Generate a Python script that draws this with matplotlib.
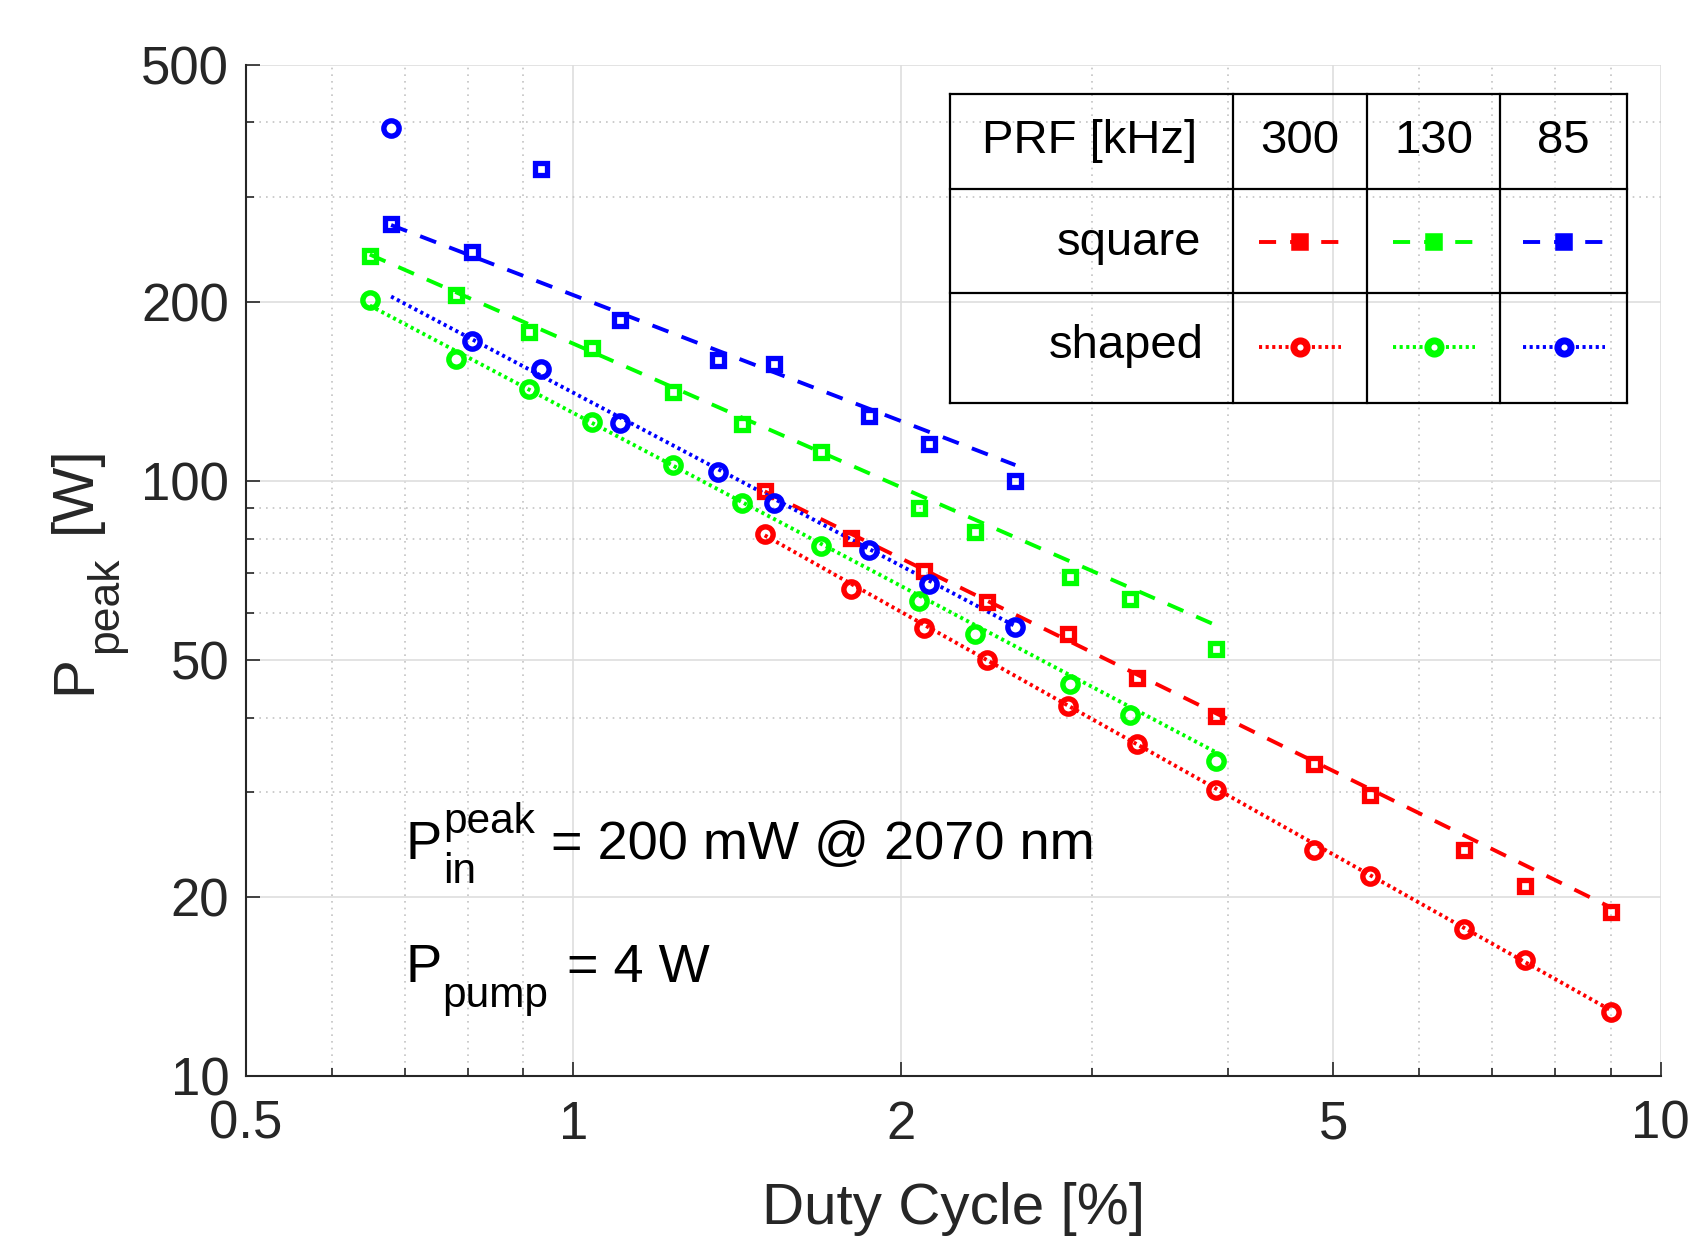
import numpy as np
import matplotlib
matplotlib.use("Agg")
import matplotlib.pyplot as plt
from matplotlib.ticker import FixedLocator, NullFormatter, FixedFormatter

plt.rcParams['font.family'] = ['Liberation Sans', 'DejaVu Sans']

# duty cycle [%] for each PRF
duty_300 = [1.5, 1.8, 2.1, 2.4, 2.85, 3.3, 3.9, 4.8, 5.4, 6.6, 7.5, 9.0]
duty_130 = [0.65, 0.78, 0.91, 1.04, 1.235, 1.43, 1.69, 2.08, 2.34, 2.86, 3.25, 3.9]
duty_85 = [0.68, 0.8075, 0.935, 1.105, 1.36, 1.53, 1.87, 2.125, 2.55]

# peak power [W], square pulses
sq_300 = [96.2, 80.3, 70.6, 62.6, 55.2, 46.7, 40.2, 33.4, 29.7, 24.0, 20.9, 18.85]
sq_130 = [238.4, 205.5, 177.6, 167.1, 140.8, 124.7, 111.6, 89.9, 81.9, 69.0, 63.4, 52.2]
sq_85 = [270, 242, 334, 186, 159.5, 157, 128.5, 115.3, 99.8]

# peak power [W], shaped pulses
sh_300 = [81.4, 65.7, 56.7, 50.0, 41.8, 36.1, 30.2, 24.0, 21.7, 17.7, 15.65, 12.84]
sh_130 = [201.0, 160.2, 142.6, 125.4, 106.4, 91.8, 77.7, 62.8, 55.3, 45.5, 40.4, 33.8]
sh_85 = [392, 172, 154, 125, 103.4, 91.8, 76.5, 67.1, 56.9]

# power-law fit lines (end points)
fit_x_300 = [1.5, 9.0]
fit_sq_300 = [96, 19.2]
fit_sh_300 = [81, 12.9]
fit_x_130 = [0.65, 3.9]
fit_sq_130 = [240, 57.2]
fit_sh_130 = [197, 35]
fit_x_85 = [0.68, 2.55]
fit_sq_85 = [269, 106.3]
fit_sh_85 = [204, 57]

prf_labels = ['300', '130', '85']
colors = ['#ff0000', '#00ff00', '#0000ff']

dash = (4.4, 3.6)
dot = (0.8, 0.9)
lw = 2.8
sq_style = dict(marker='s', ms=8.8, mew=3.8)
ci_style = dict(marker='o', ms=11.0, mew=3.9)

W, H = 1691, 1240
fig = plt.figure(figsize=(W / 100, H / 100), dpi=100)
ax = fig.add_axes([0.1454, 0.1321, 0.8367, 0.8157])

series = [
    (duty_300, sq_300, sh_300, fit_x_300, fit_sq_300, fit_sh_300),
    (duty_130, sq_130, sh_130, fit_x_130, fit_sq_130, fit_sh_130),
    (duty_85, sq_85, sh_85, fit_x_85, fit_sq_85, fit_sh_85),
]
for (dx, sq, sh, fx, fsq, fsh), c in zip(series, colors):
    ax.plot(fx, fsq, color=c, lw=lw, dashes=dash, zorder=3)
    ax.plot(fx, fsh, color=c, lw=lw, dashes=dot, zorder=3)
    ax.plot(dx, sq, ls='none', mfc='none', mec=c, zorder=4, **sq_style)
    ax.plot(dx, sh, ls='none', mfc='none', mec=c, zorder=4, **ci_style)

ax.set_xscale('log')
ax.set_yscale('log')
ax.set_xlim(0.5, 10)
ax.set_ylim(10, 500)

xt = [0.5, 1, 2, 5, 10]
yt = [10, 20, 50, 100, 200, 500]
ax.xaxis.set_major_locator(FixedLocator(xt))
ax.xaxis.set_major_formatter(FixedFormatter(['0.5', '1', '2', '5', '10']))
ax.xaxis.set_minor_locator(FixedLocator([0.6, 0.7, 0.8, 0.9, 3, 4, 6, 7, 8, 9]))
ax.xaxis.set_minor_formatter(NullFormatter())
ax.yaxis.set_major_locator(FixedLocator(yt))
ax.yaxis.set_major_formatter(FixedFormatter([str(v) for v in yt]))
ax.yaxis.set_minor_locator(FixedLocator([30, 40, 60, 70, 80, 90, 300, 400]))
ax.yaxis.set_minor_formatter(NullFormatter())

ax.grid(True, which='major', color='#dedede', lw=1.2, ls='-', zorder=0)
ax.grid(True, which='minor', color='#c4c4c4', lw=1.2, ls=(0, (1, 3)), zorder=0)
ax.set_axisbelow(True)

for s in ['top', 'right']:
    ax.spines[s].set_visible(False)
for s in ['left', 'bottom']:
    ax.spines[s].set_color('#262626')
    ax.spines[s].set_linewidth(1.5)

ax.tick_params(which='both', direction='in', colors='#262626', labelsize=38, width=1.2)
ax.tick_params(which='major', length=10)
ax.tick_params(which='minor', length=6)
ax.tick_params(axis='x', pad=17)
ax.tick_params(axis='y', pad=12)

ax.set_xlabel('Duty Cycle [%]', fontsize=42, color='#262626')
ax.xaxis.set_label_coords(0.5, -0.105)


def fx_(x):
    return x / W


def fy_(y):
    return 1 - y / H


# y label, built from pieces so the subscript size matches
ylab = dict(rotation=90, rotation_mode='anchor', ha='left', va='baseline', color='#262626')
fig.text(fx_(90), fy_(694), 'P', fontsize=42, **ylab)
fig.text(fx_(117), fy_(653), 'peak', fontsize=32, **ylab)
fig.text(fx_(90), fy_(533), '[W]', fontsize=42, **ylab)

# annotations
fig.text(fx_(405), fy_(859), 'P', fontsize=39, va='baseline')
fig.text(fx_(443), fy_(833), 'peak', fontsize=30.5, va='baseline')
fig.text(fx_(443), fy_(883), 'in', fontsize=30.5, va='baseline')
fig.text(fx_(551), fy_(859), '= 200 mW @ 2070 nm', fontsize=39, va='baseline')
fig.text(fx_(405), fy_(981.7), 'P', fontsize=39, va='baseline')
fig.text(fx_(442), fy_(1006.7), 'pump', fontsize=30.5, va='baseline')
fig.text(fx_(567), fy_(981.7), '= 4 W', fontsize=39, va='baseline')

# legend table, drawn in figure pixel coordinates
L, R, T, B = 950, 1627, 93.8, 403.3
tab = fig.add_axes([L / W, 1 - B / H, (R - L) / W, (B - T) / H])
tab.set_xlim(L, R)
tab.set_ylim(B, T)
tab.axis('off')
col_x = [L, 1232.6, 1367.4, 1500, R]
row_y = [T, 188.7, 293.3, B]
for x in col_x:
    tab.plot([x, x], [T, B], color='black', lw=1.6, clip_on=False)
for y in row_y:
    tab.plot([L, R], [y, y], color='black', lw=1.6, clip_on=False)

centers = [(col_x[i] + col_x[i + 1]) / 2 for i in range(1, 4)]
tab.text((L + col_x[1]) / 2 - 2, 141, 'PRF [kHz]', fontsize=34, ha='center', va='center')
for cx, lab in zip(centers, prf_labels):
    tab.text(cx, 141, lab, fontsize=34, ha='center', va='center')
tab.text(1201, 243, 'square', fontsize=34, ha='right', va='center')
tab.text(1204, 346, 'shaped', fontsize=34, ha='right', va='center')
for cx, c in zip(centers, colors):
    tab.plot([cx - 41, cx + 41], [242, 242], color=c, lw=lw, dashes=dash)
    tab.plot([cx], [242], mfc=c, mec=c, marker='s', ms=9, mew=4)
    tab.plot([cx - 41, cx + 41], [347, 347], color=c, lw=lw, dashes=dot)
    tab.plot([cx], [347], mfc='white', mec=c, marker='o', ms=9.5, mew=5)

fig.savefig('out.png', dpi=100)
